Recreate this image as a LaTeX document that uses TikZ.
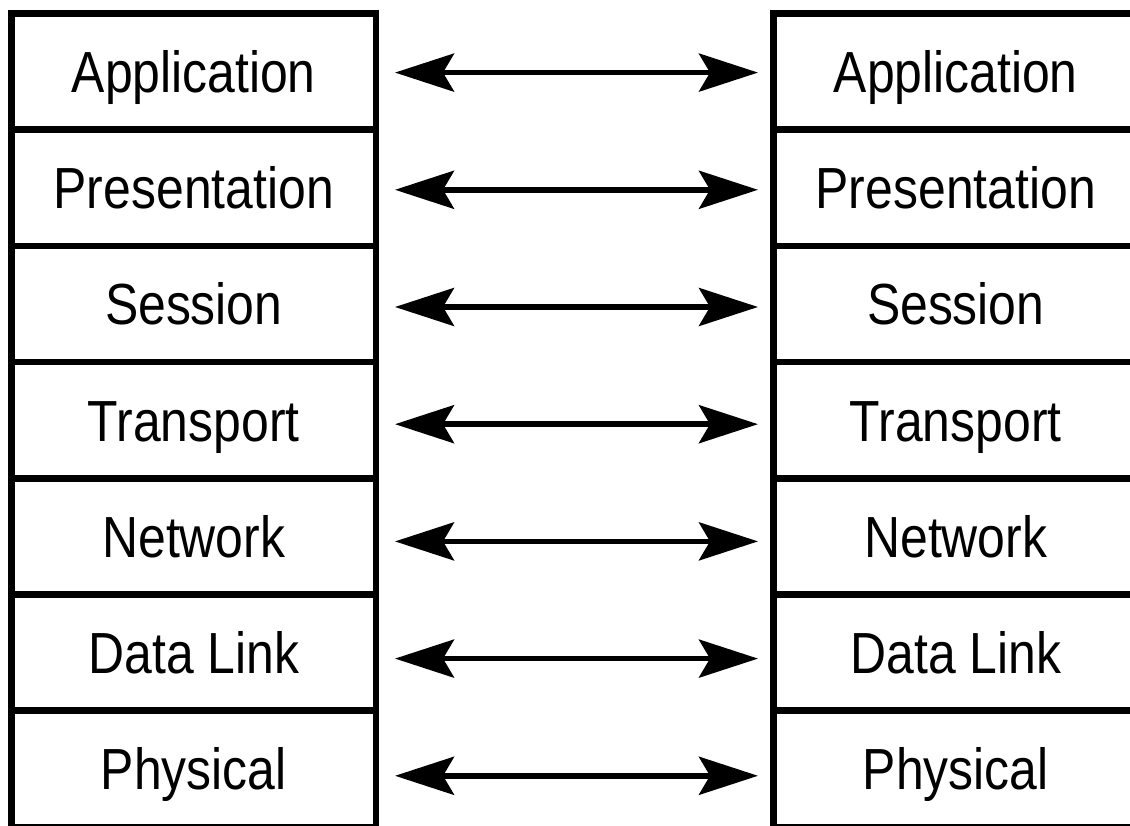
\documentclass[tikz,border=0pt]{standalone}
\usepackage{fontspec}
\setmainfont[FakeStretch=0.86]{Liberation Sans}
\usetikzlibrary{arrows.meta}
\tikzset{
  layer/.style={draw=black, line width=6.5pt, rectangle, inner sep=0pt, outer sep=0pt,
    minimum width=364.5pt, minimum height=116.2pt,
    font=\fontsize{58}{60}\selectfont, text height=42pt, text depth=0pt},
  peer/.style={line width=5.5pt, {Stealth[length=59pt,width=38pt,inset=11pt]}-{Stealth[length=59pt,width=38pt,inset=11pt]}}
}
\begin{document}
\begin{tikzpicture}[x=1pt,y=1pt]
\useasboundingbox (0,0) rectangle (1130,825);
\clip (0,0) rectangle (1130,825);
\fill[white] (0,0) rectangle (1130,825);
\foreach \name [count=\i from 0] in {Application,Presentation,Session,Transport,Network,Data Link,Physical} {
  \pgfmathsetmacro{\yc}{825-(13.5+116.2*(\i+0.5))}
  \pgfmathsetmacro{\ys}{-(1+\i)}
  \node[layer] (L\i) at (193.75,\yc) {\name};
  \node[layer] (R\i) at (955.75,\yc) {\name};
  \draw[peer] ([xshift=19pt,yshift=\ys pt]L\i.east) -- ([xshift=-15.5pt,yshift=\ys pt]R\i.west);
}
\end{tikzpicture}
\end{document}
